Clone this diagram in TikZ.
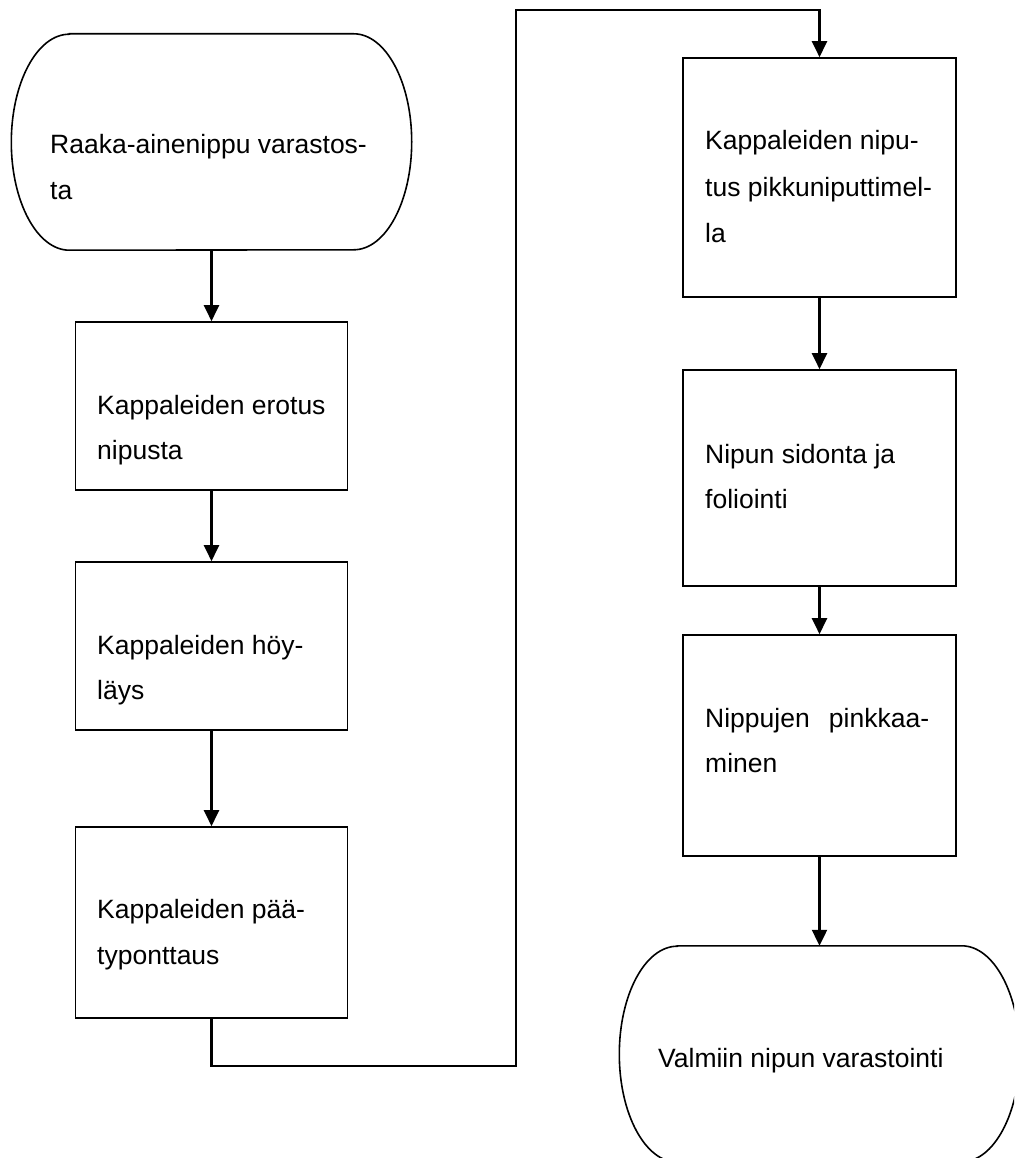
\documentclass[tikz,border=0pt]{standalone}
\usepackage{fontspec}
\setmainfont{Liberation Sans}
\usetikzlibrary{arrows.meta}
\tikzset{
  procbox/.style={draw=black, line width=1.6pt, rectangle, inner sep=0pt},
  termbox/.style={inner sep=0pt, rectangle},
  termline/.style={draw=black, line width=1.6pt},
  flowarr/.style={line width=2.2pt, -{Triangle[length=16pt,width=15pt]}},
  lbl/.style={inner sep=0pt, anchor=base west, font=\fontsize{26.5}{31}\selectfont}
}
\begin{document}
\begin{tikzpicture}[x=1pt,y=-1pt]
\useasboundingbox (0,0) rectangle (1014,1158);
\clip (0,0) rectangle (1014,1158);
\fill[white] (0,0) rectangle (1014,1158);
% terminal 1
\node[termbox, minimum width=400pt, minimum height=216pt] (t1) at (211.5,142) {};
\draw[termline] ([xshift=58pt]t1.north west) -- ([xshift=-58pt]t1.north east)
  arc[start angle=90, end angle=-90, x radius=58pt, y radius=108pt]
  -- ([xshift=58pt]t1.south west)
  arc[start angle=270, end angle=90, x radius=58pt, y radius=108pt] -- cycle;
% terminal 2
\node[termbox, minimum width=400pt, minimum height=216pt] (t2) at (819.5,1054) {};
\draw[termline] ([xshift=58pt]t2.north west) -- ([xshift=-58pt]t2.north east)
  arc[start angle=90, end angle=-90, x radius=58pt, y radius=108pt]
  -- ([xshift=58pt]t2.south west)
  arc[start angle=270, end angle=90, x radius=58pt, y radius=108pt] -- cycle;
% process boxes
\node[procbox, minimum width=272pt, minimum height=168pt] (b2) at (211.5,406) {};
\node[procbox, minimum width=272pt, minimum height=168pt] (b3) at (211.5,646) {};
\node[procbox, minimum width=272pt, minimum height=191pt] (b4) at (211.5,922.5) {};
\node[procbox, minimum width=273pt, minimum height=239pt] (b5) at (819.5,177.5) {};
\node[procbox, minimum width=273pt, minimum height=216pt] (b6) at (819.5,478) {};
\node[procbox, minimum width=273pt, minimum height=221pt] (b7) at (819.5,745.5) {};
% labels
\node[lbl] (t1a) at (50,154) {Raaka-ainenippu varastos-};
\node[lbl] (t1b) at (50,200) {ta};
\node[lbl] (b2a) at (97,414) {Kappaleiden erotus};
\node[lbl] (b2b) at (97,459) {nipusta};
\node[lbl] (b3a) at (97,654) {Kappaleiden höy-};
\node[lbl] (b3b) at (97,699) {läys};
\node[lbl] (b4a) at (97,918) {Kappaleiden pää-};
\node[lbl] (b4b) at (97,964) {typonttaus};
\node[lbl] (b5a) at (705,150) {Kappaleiden nipu-};
\node[lbl] (b5b) at (705,197) {tus pikkuniputtimel-};
\node[lbl] (b5c) at (705,243) {la};
\node[lbl] (b6a) at (705,463) {Nipun sidonta ja};
\node[lbl] (b6b) at (705,508) {foliointi};
\node[lbl] (b7a) at (705,727) {\makebox[224pt][s]{Nippujen\hfill pinkkaa-}};
\node[lbl] (b7b) at (705,772) {minen};
\node[lbl] (t2a) at (658,1067) {Valmiin nipun varastointi};
% connectors
\coordinate (c1) at (516,1066);
\coordinate (c2) at (516,10);
\draw[flowarr] (t1.south) -- (b2.north);
\draw[flowarr] (b2.south) -- (b3.north);
\draw[flowarr] (b3.south) -- (b4.north);
\draw[flowarr] (b4.south) |- (c1) -- (c2) -| (b5.north);
\draw[flowarr] (b5.south) -- (b6.north);
\draw[flowarr] (b6.south) -- (b7.north);
\draw[flowarr] (b7.south) -- (t2.north);
\end{tikzpicture}
\end{document}
